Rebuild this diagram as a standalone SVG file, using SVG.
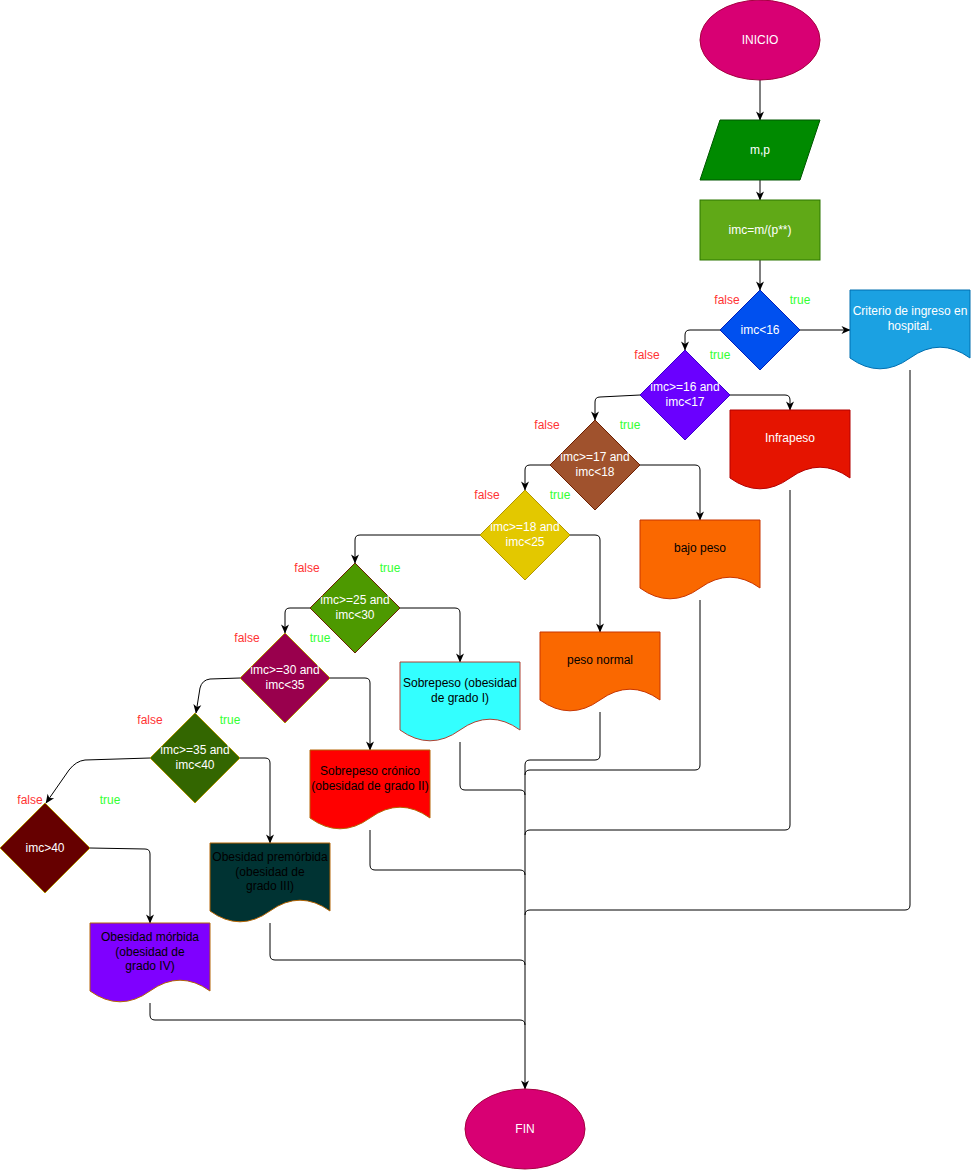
<svg xmlns="http://www.w3.org/2000/svg" width="971" height="1170" viewBox="0 0 971 1170">
  <style>
    text { font-family: "Liberation Sans", Arial, sans-serif; font-size: 12px; text-anchor: middle; }
    .w { fill: #ffffff; }
    .b { fill: #000000; }
    .f { fill: #ff3333; }
    .t { fill: #33ff33; }
    .edge { fill: none; stroke: #000000; stroke-width: 1; }
    .arr { marker-end: url(#arrow); }
  </style>
  <defs>
    <marker id="arrow" viewBox="0 0 10 10" refX="9.5" refY="5" markerWidth="10" markerHeight="10" markerUnits="userSpaceOnUse" orient="auto">
      <path d="M1,1 L10,5 L1,9 L3.5,5 Z" fill="#000000"/>
    </marker>
  </defs>
  <rect width="971" height="1170" fill="#ffffff"/>

  <!-- connectors -->
  <g id="connectors">
    <path class="edge arr" d="M760,80 V120"/>
    <path class="edge arr" d="M760,180 V200"/>
    <path class="edge arr" d="M760,260 V290"/>
    <path class="edge arr" d="M800,330 H850"/>
    <path class="edge arr" d="M720,330 H690 Q685,330 685,335 V350"/>
    <path class="edge arr" d="M730,395 H785 Q790,395 790,400 V410"/>
    <path class="edge arr" d="M640,395 L600,397 Q595,397 595,402 V420"/>
    <path class="edge arr" d="M640,465 H695 Q700,465 700,470 V520"/>
    <path class="edge arr" d="M550,465 H530 Q525,465 525,470 V490"/>
    <path class="edge arr" d="M570,535 H595 Q600,535 600,540 V632"/>
    <path class="edge arr" d="M480,535 H360 Q355,535 355,540 V563"/>
    <path class="edge arr" d="M400,608 H455 Q460,608 460,613 V662"/>
    <path class="edge arr" d="M310,608 H290 Q285,608 285,613 V633"/>
    <path class="edge arr" d="M330,678 H365 Q370,678 370,683 V750"/>
    <path class="edge arr" d="M240,678 L210,679 Q202,680 200,688 L196,713"/>
    <path class="edge arr" d="M240,758 H265 Q270,758 270,763 V843"/>
    <path class="edge arr" d="M150,758 L85,760 Q76,761 69,770 L46,803"/>
    <path class="edge arr" d="M90,848 L145,849 Q150,849 150,854 V923"/>

    <!-- results merging into the trunk down to FIN -->
    <path class="edge" d="M600,712 V755 Q600,760 595,760 H530 Q525,760 525,765"/>
    <path class="edge" d="M700,600 V765 Q700,770 695,770 H530 Q525,770 525,775"/>
    <path class="edge" d="M460,742 V785 Q460,790 465,790 H520 Q525,790 525,795"/>
    <path class="edge" d="M790,490 V825 Q790,830 785,830 H530 Q525,830 525,835"/>
    <path class="edge" d="M370,830 V865 Q370,870 375,870 H520 Q525,870 525,875"/>
    <path class="edge" d="M910,370 V905 Q910,910 905,910 H530 Q525,910 525,915"/>
    <path class="edge" d="M270,923 V955 Q270,960 275,960 H520 Q525,960 525,965"/>
    <path class="edge" d="M150,1003 V1015 Q150,1020 155,1020 H520 Q525,1020 525,1025"/>
    <path class="edge arr" d="M525,765 V1089"/>
  </g>

  <!-- branch labels -->
  <g id="labels">
    <text class="f" x="727" y="304">false</text>
    <text class="t" x="800" y="304">true</text>
    <text class="f" x="647" y="359">false</text>
    <text class="t" x="720" y="359">true</text>
    <text class="f" x="547" y="429">false</text>
    <text class="t" x="630" y="429">true</text>
    <text class="f" x="487" y="499">false</text>
    <text class="t" x="560" y="499">true</text>
    <text class="f" x="307" y="572">false</text>
    <text class="t" x="390" y="572">true</text>
    <text class="f" x="247" y="642">false</text>
    <text class="t" x="320" y="642">true</text>
    <text class="f" x="150" y="724">false</text>
    <text class="t" x="230" y="724">true</text>
    <text class="f" x="30" y="804">false</text>
    <text class="t" x="110" y="804">true</text>
  </g>

  <g id="inicio">
    <ellipse cx="760" cy="40" rx="60" ry="40" fill="#d80073" stroke="#a50040"/>
    <text class="w" x="760" y="44">INICIO</text>
  </g>

  <g id="entrada">
    <path d="M720,120 H820 L800,180 H700 Z" fill="#008a00" stroke="#005700"/>
    <text class="w" x="760" y="154">m,p</text>
  </g>

  <g id="calculo">
    <rect x="700" y="200" width="120" height="60" fill="#60a917" stroke="#2d7600"/>
    <text class="w" x="760" y="234">imc=m/(p**)</text>
  </g>

  <g id="d-imc16">
    <path d="M760,290 L800,330 L760,370 L720,330 Z" fill="#0050ef" stroke="#001dbc"/>
    <text class="w" x="760" y="334">imc&lt;16</text>
  </g>

  <g id="doc-criterio">
    <path d="M850,290 H970 V358 Q940,336.4 910,358 Q880,379.6 850,358 Z" fill="#1ba1e2" stroke="#006eaf"/>
    <text class="w" x="910" y="315">Criterio de ingreso en</text>
    <text class="w" x="910" y="330">hospital.</text>
  </g>

  <g id="d-imc17">
    <path d="M685,350 L730,395 L685,440 L640,395 Z" fill="#6a00ff" stroke="#3700cc"/>
    <text class="w" x="685" y="391">imc&gt;=16 and</text>
    <text class="w" x="685" y="406">imc&lt;17</text>
  </g>

  <g id="doc-infrapeso">
    <path d="M730,410 H850 V478 Q820,456.4 790,478 Q760,499.6 730,478 Z" fill="#e51400" stroke="#b20000"/>
    <text class="w" x="790" y="442">Infrapeso</text>
  </g>

  <g id="d-imc18">
    <path d="M595,420 L640,465 L595,510 L550,465 Z" fill="#a0522d" stroke="#6d1f00"/>
    <text class="w" x="595" y="461">imc&gt;=17 and</text>
    <text class="w" x="595" y="476">imc&lt;18</text>
  </g>

  <g id="doc-bajo-peso">
    <path d="M640,520 H760 V588 Q730,566.4 700,588 Q670,609.6 640,588 Z" fill="#fa6800" stroke="#c73500"/>
    <text class="b" x="700" y="552">bajo peso</text>
  </g>

  <g id="d-imc25">
    <path d="M525,490 L570,535 L525,580 L480,535 Z" fill="#e3c800" stroke="#b09500"/>
    <text class="w" x="525" y="531">imc&gt;=18 and</text>
    <text class="w" x="525" y="546">imc&lt;25</text>
  </g>

  <g id="doc-peso-normal">
    <path d="M540,632 H660 V700 Q630,678.4 600,700 Q570,721.6 540,700 Z" fill="#fa6800" stroke="#c73500"/>
    <text class="b" x="600" y="664">peso normal</text>
  </g>

  <g id="d-imc30">
    <path d="M355,563 L400,608 L355,653 L310,608 Z" fill="#4d9900" stroke="#6d1f00"/>
    <text class="w" x="355" y="604">imc&gt;=25 and</text>
    <text class="w" x="355" y="619">imc&lt;30</text>
  </g>

  <g id="doc-sobrepeso">
    <path d="M400,662 H520 V730 Q490,708.4 460,730 Q430,751.6 400,730 Z" fill="#33ffff" stroke="#ae4132"/>
    <text class="b" x="460" y="687">Sobrepeso (obesidad</text>
    <text class="b" x="460" y="702">de grado I)</text>
  </g>

  <g id="d-imc35">
    <path d="M285,633 L330,678 L285,723 L240,678 Z" fill="#99004d" stroke="#b09500"/>
    <text class="w" x="285" y="674">imc&gt;=30 and</text>
    <text class="w" x="285" y="689">imc&lt;35</text>
  </g>

  <g id="doc-sobrepeso-cronico">
    <path d="M310,750 H430 V818 Q400,796.4 370,818 Q340,839.6 310,818 Z" fill="#ff0000" stroke="#b46504"/>
    <text class="b" x="370" y="775">Sobrepeso crónico</text>
    <text class="b" x="370" y="790">(obesidad de grado II)</text>
  </g>

  <g id="d-imc40">
    <path d="M195,713 L240,758 L195,803 L150,758 Z" fill="#336600" stroke="#b09500"/>
    <text class="w" x="195" y="754">imc&gt;=35 and</text>
    <text class="w" x="195" y="769">imc&lt;40</text>
  </g>

  <g id="doc-premorbida">
    <path d="M210,843 H330 V911 Q300,889.4 270,911 Q240,932.6 210,911 Z" fill="#003333" stroke="#b46504"/>
    <text class="b" x="270" y="861">Obesidad premórbida</text>
    <text class="b" x="270" y="875.5">(obesidad de</text>
    <text class="b" x="270" y="890">grado III)</text>
  </g>

  <g id="d-imc-mayor40">
    <path d="M45,803 L90,848 L45,893 L0,848 Z" fill="#660000" stroke="#b09500"/>
    <text class="w" x="45" y="852">imc&gt;40</text>
  </g>

  <g id="doc-morbida">
    <path d="M90,923 H210 V991 Q180,969.4 150,991 Q120,1012.6 90,991 Z" fill="#7f00ff" stroke="#b46504"/>
    <text class="b" x="150" y="941">Obesidad mórbida</text>
    <text class="b" x="150" y="955.5">(obesidad de</text>
    <text class="b" x="150" y="970">grado IV)</text>
  </g>

  <g id="fin">
    <ellipse cx="525" cy="1129" rx="60" ry="40" fill="#d80073" stroke="#a50040"/>
    <text class="w" x="525" y="1133">FIN</text>
  </g>
</svg>
